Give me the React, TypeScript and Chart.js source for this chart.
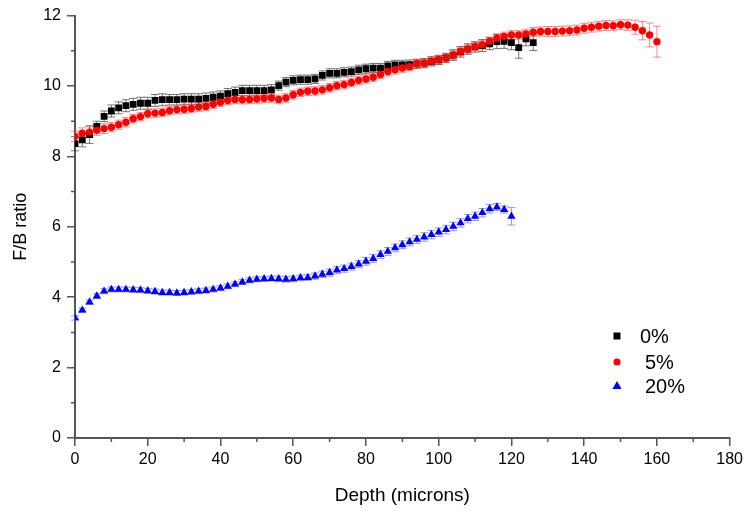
import React, { useEffect, useRef } from 'react';
import { Chart, registerables } from 'chart.js';

Chart.register(...registerables);

// Depth values (microns), sampled every 2 microns
const depths = [
  0, 2, 4, 6, 8, 10, 12, 14, 16, 18, 20, 22, 24, 26, 28, 30,
  32, 34, 36, 38, 40, 42, 44, 46, 48, 50, 52, 54, 56, 58, 60, 62,
  64, 66, 68, 70, 72, 74, 76, 78, 80, 82, 84, 86, 88, 90, 92, 94,
  96, 98, 100, 102, 104, 106, 108, 110, 112, 114, 116, 118, 120, 122, 124, 126,
  128, 130, 132, 134, 136, 138, 140, 142, 144, 146, 148, 150, 152, 154, 156, 158,
  160,
];

// 0% series
const ratio0 = [
  8.36, 8.47, 8.62, 8.85, 9.14, 9.29, 9.38, 9.44,
  9.48, 9.51, 9.51, 9.59, 9.61, 9.61, 9.61, 9.63,
  9.63, 9.63, 9.65, 9.68, 9.71, 9.78, 9.82, 9.87,
  9.87, 9.87, 9.87, 9.89, 10.01, 10.11, 10.16, 10.18,
  10.18, 10.2, 10.3, 10.36, 10.36, 10.39, 10.41, 10.46,
  10.49, 10.51, 10.51, 10.57, 10.6, 10.6, 10.61, 10.63,
  10.65, 10.7, 10.74, 10.8, 10.88, 10.97, 11.05, 11.11,
  11.15, 11.2, 11.26, 11.27, 11.23, 11.09, 11.34, 11.23,
];
const err0 = [
  0.2, 0.2, 0.25, 0.15, 0.15, 0.17, 0.17, 0.17,
  0.17, 0.17, 0.17, 0.17, 0.17, 0.15, 0.15, 0.15,
  0.15, 0.15, 0.15, 0.15, 0.15, 0.15, 0.15, 0.15,
  0.15, 0.15, 0.15, 0.15, 0.13, 0.13, 0.13, 0.13,
  0.13, 0.13, 0.13, 0.13, 0.13, 0.13, 0.13, 0.13,
  0.13, 0.13, 0.13, 0.13, 0.13, 0.13, 0.13, 0.13,
  0.13, 0.13, 0.13, 0.13, 0.15, 0.15, 0.15, 0.15,
  0.17, 0.17, 0.2, 0.2, 0.2, 0.3, 0.2, 0.22,
];

// 5% series
const ratio5 = [
  8.57, 8.66, 8.69, 8.74, 8.79, 8.83, 8.9, 8.97,
  9.07, 9.13, 9.21, 9.23, 9.25, 9.3, 9.33, 9.34,
  9.36, 9.4, 9.42, 9.48, 9.54, 9.59, 9.62, 9.61,
  9.62, 9.63, 9.65, 9.66, 9.62, 9.66, 9.75, 9.82,
  9.85, 9.86, 9.89, 9.95, 10.01, 10.04, 10.1, 10.16,
  10.2, 10.25, 10.33, 10.41, 10.46, 10.51, 10.55, 10.63,
  10.65, 10.71, 10.75, 10.79, 10.88, 10.98, 11.05, 11.12,
  11.17, 11.27, 11.36, 11.41, 11.45, 11.45, 11.48, 11.53,
  11.55, 11.55, 11.55, 11.56, 11.57, 11.59, 11.64, 11.67,
  11.7, 11.72, 11.71, 11.74, 11.73, 11.67, 11.57, 11.45,
  11.26,
];
const err5 = [
  0.15, 0.15, 0.15, 0.14, 0.14, 0.13, 0.13, 0.13,
  0.12, 0.12, 0.12, 0.12, 0.12, 0.12, 0.12, 0.12,
  0.12, 0.12, 0.12, 0.12, 0.12, 0.12, 0.12, 0.12,
  0.12, 0.12, 0.12, 0.12, 0.12, 0.12, 0.12, 0.12,
  0.12, 0.12, 0.12, 0.12, 0.12, 0.12, 0.12, 0.12,
  0.12, 0.12, 0.12, 0.12, 0.12, 0.12, 0.12, 0.12,
  0.12, 0.12, 0.12, 0.12, 0.12, 0.12, 0.12, 0.12,
  0.12, 0.12, 0.12, 0.12, 0.12, 0.12, 0.13, 0.13,
  0.13, 0.14, 0.14, 0.14, 0.14, 0.14, 0.14, 0.14,
  0.14, 0.14, 0.14, 0.14, 0.15, 0.2, 0.26, 0.34,
  0.44,
];

// 20% series
const ratio20 = [
  3.41, 3.63, 3.86, 4.03, 4.17, 4.22, 4.22, 4.22,
  4.21, 4.2, 4.18, 4.16, 4.13, 4.13, 4.12, 4.13,
  4.15, 4.17, 4.19, 4.22, 4.26, 4.31, 4.37, 4.43,
  4.48, 4.51, 4.52, 4.53, 4.52, 4.51, 4.52, 4.55,
  4.56, 4.6, 4.65, 4.7, 4.77, 4.81, 4.87, 4.94,
  5.02, 5.1, 5.21, 5.3, 5.4, 5.49, 5.57, 5.64,
  5.71, 5.78, 5.85, 5.92, 6.01, 6.11, 6.23, 6.3,
  6.4, 6.51, 6.56, 6.49, 6.3,
];
const err20 = [
  0.06, 0.06, 0.06, 0.07, 0.07, 0.07, 0.07, 0.07,
  0.07, 0.07, 0.07, 0.07, 0.07, 0.07, 0.07, 0.07,
  0.07, 0.07, 0.07, 0.07, 0.07, 0.07, 0.07, 0.07,
  0.07, 0.07, 0.07, 0.07, 0.08, 0.08, 0.08, 0.08,
  0.08, 0.09, 0.09, 0.1, 0.1, 0.1, 0.1, 0.1,
  0.11, 0.11, 0.11, 0.11, 0.11, 0.11, 0.11, 0.11,
  0.12, 0.12, 0.12, 0.12, 0.12, 0.12, 0.12, 0.12,
  0.12, 0.12, 0.1, 0.1, 0.25,
];

const seriesLabels = ['0%', '5%', '20%'];
const xMinorTicks = [10, 30, 50, 70, 90, 110, 130, 150, 170];
const yMinorTicks = [1, 3, 5, 7, 9, 11];

const FONT = "'Liberation Sans', Arial, Helvetica, sans-serif";

export default function App() {
  const canvasRef = useRef<HTMLCanvasElement | null>(null);

  useEffect(() => {
    document.body.style.margin = '0';
    const canvas = canvasRef.current;
    if (!canvas) return;

    const toPoints = (vals: number[]) => vals.map((v, i) => ({ x: depths[i], y: v }));

    const errorSets = [
      { errors: err0, color: 'rgba(60,60,60,0.7)' },
      { errors: err5, color: 'rgba(255,60,60,0.62)' },
      { errors: err20, color: 'rgba(70,70,255,0.55)' },
    ];

    const errorBarPlugin = {
      id: 'errorBars',
      beforeDatasetsDraw(chart: any) {
        const ctx = chart.ctx;
        const xs = chart.scales.x;
        const ys = chart.scales.y;
        chart.data.datasets.forEach((ds: any, i: number) => {
          const set = errorSets[i];
          if (!set) return;
          ctx.save();
          ctx.strokeStyle = set.color;
          ctx.lineWidth = 1;
          ds.data.forEach((p: any, j: number) => {
            const e = set.errors[j] || 0;
            const x = xs.getPixelForValue(p.x);
            const y1 = ys.getPixelForValue(p.y + e);
            const y2 = ys.getPixelForValue(p.y - e);
            ctx.beginPath();
            ctx.moveTo(x, y1);
            ctx.lineTo(x, y2);
            ctx.moveTo(x - 4, y1);
            ctx.lineTo(x + 4, y1);
            ctx.moveTo(x - 4, y2);
            ctx.lineTo(x + 4, y2);
            ctx.stroke();
          });
          ctx.restore();
        });
      },
    };

    const minorTickPlugin = {
      id: 'minorTicks',
      afterDraw(chart: any) {
        const ctx = chart.ctx;
        const xs = chart.scales.x;
        const ys = chart.scales.y;
        const { left, bottom } = chart.chartArea;
        ctx.save();
        ctx.strokeStyle = '#555';
        ctx.lineWidth = 1.5;
        ctx.beginPath();
        xMinorTicks.forEach((v) => {
          const px = xs.getPixelForValue(v);
          ctx.moveTo(px, bottom);
          ctx.lineTo(px, bottom + 4);
        });
        yMinorTicks.forEach((v) => {
          const py = ys.getPixelForValue(v);
          ctx.moveTo(left - 4, py);
          ctx.lineTo(left, py);
        });
        ctx.stroke();
        ctx.restore();
      },
    };

    const legendPlugin = {
      id: 'insideLegend',
      afterDraw(chart: any) {
        const ctx = chart.ctx;
        const rows = [
          { y: 336, textX: 640 },
          { y: 362, textX: 645 },
          { y: 386, textX: 645 },
        ];
        const markerX = 617;
        ctx.save();
        ctx.font = `20px ${FONT}`;
        ctx.textBaseline = 'middle';
        ctx.textAlign = 'left';
        chart.data.datasets.forEach((ds: any, i: number) => {
          const r = rows[i];
          ctx.fillStyle = ds.backgroundColor;
          ctx.beginPath();
          if (ds.pointStyle === 'rect') {
            ctx.rect(markerX - 3.5, r.y - 3.5, 7, 7);
          } else if (ds.pointStyle === 'circle') {
            ctx.arc(markerX, r.y, 3.6, 0, Math.PI * 2);
          } else {
            ctx.moveTo(markerX, r.y - 5);
            ctx.lineTo(markerX + 4.6, r.y + 3);
            ctx.lineTo(markerX - 4.6, r.y + 3);
            ctx.closePath();
          }
          ctx.fill();
          ctx.fillStyle = '#000';
          ctx.fillText(ds.label, r.textX, r.y + 1);
        });
        ctx.restore();
      },
    };

    const chart = new Chart(canvas, {
      type: 'scatter',
      data: {
        datasets: [
          {
            label: seriesLabels[0],
            data: toPoints(ratio0),
            pointStyle: 'rect',
            pointRadius: 4.8,
            pointBorderWidth: 0,
            backgroundColor: '#000000',
            borderColor: '#000000',
            showLine: false,
            order: 2,
          },
          {
            label: seriesLabels[1],
            data: toPoints(ratio5),
            pointStyle: 'circle',
            pointRadius: 3.7,
            pointBorderWidth: 0,
            backgroundColor: '#ff0000',
            borderColor: '#ff0000',
            showLine: false,
            order: 1,
          },
          {
            label: seriesLabels[2],
            data: toPoints(ratio20),
            pointStyle: 'triangle',
            pointRadius: 4.8,
            pointBorderWidth: 0,
            backgroundColor: '#0000ff',
            borderColor: '#0000ff',
            showLine: false,
            order: 3,
          },
        ],
      },
      options: {
        responsive: false,
        animation: false,
        devicePixelRatio: 1,
        layout: { padding: { top: 15, right: 16, left: 0, bottom: 0 } },
        plugins: {
          legend: { display: false },
          tooltip: { enabled: false },
        },
        scales: {
          x: {
            type: 'linear',
            min: 0,
            max: 180,
            ticks: {
              stepSize: 20,
              color: '#000',
              font: { family: FONT, size: 16 },
              padding: 4,
              maxRotation: 0,
            },
            grid: {
              display: true,
              drawOnChartArea: false,
              drawTicks: true,
              tickLength: 8,
              color: '#555',
              lineWidth: 1.5,
            },
            border: { display: true, color: '#555', width: 2 },
            title: {
              display: true,
              text: 'Depth (microns)',
              color: '#000',
              font: { family: FONT, size: 19 },
              padding: { top: 0, bottom: 4 },
            },
            afterFit(scale: any) {
              scale.height = 73;
            },
          },
          y: {
            type: 'linear',
            min: 0,
            max: 12,
            ticks: {
              stepSize: 2,
              color: '#000',
              font: { family: FONT, size: 16 },
              padding: 6,
            },
            grid: {
              display: true,
              drawOnChartArea: false,
              drawTicks: true,
              tickLength: 8,
              color: '#555',
              lineWidth: 1.5,
            },
            border: { display: true, color: '#555', width: 2 },
            title: {
              display: true,
              text: 'F/B ratio',
              color: '#000',
              font: { family: FONT, size: 18 },
              padding: { top: 10, bottom: 0 },
            },
            afterFit(scale: any) {
              scale.width = 75;
            },
          },
        },
      } as any,
      plugins: [errorBarPlugin, minorTickPlugin, legendPlugin],
    });

    return () => {
      chart.destroy();
    };
  }, []);

  return (
    <div style={{ position: 'absolute', left: 0, top: 0, width: 747, height: 511, background: '#fff' }}>
      <canvas ref={canvasRef} width={747} height={511} />
    </div>
  );
}
